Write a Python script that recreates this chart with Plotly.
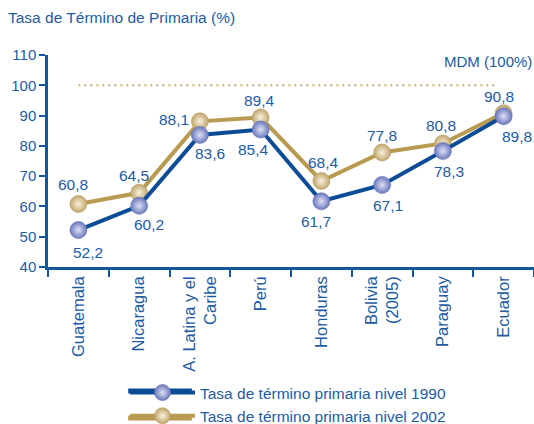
import plotly.graph_objects as go

# Primary completion rate (%) by country
categories = ["Guatemala", "Nicaragua", "A. Latina y el<br>Caribe", "Perú",
              "Honduras", "Bolivia<br>(2005)", "Paraguay", "Ecuador"]
rate_1990 = [52.2, 60.2, 83.6, 85.4, 61.7, 67.1, 78.3, 89.8]
rate_2002 = [60.8, 64.5, 88.1, 89.4, 68.4, 77.8, 80.8, 90.8]
mdm_target = 100
y_ticks = [40, 50, 60, 70, 80, 90, 100, 110]

# label offsets in pixels (dx, dy) relative to each marker
off_1990 = [(10, -22), (10, -19), (10, -19), (-7, -20), (-5, -20), (6, -21), (6, -20), (13, -20)]
off_2002 = [(-5, 20), (-5, 17), (-26, 2), (-1, 17), (2, 18), (0, 17), (-2, 18), (-5, 17)]

TEXT = "#1d5ba3"
AXIS = "#14569c"
BLUE = "#0c4c96"
GOLD = "#b89a50"
FONT = "Liberation Sans, Arial, sans-serif"


def fmt(v):
    return f"{v:.1f}".replace(".", ",")


fig = go.Figure()

fig.add_trace(go.Scatter(
    x=categories, y=rate_2002, mode="lines+markers",
    name="Tasa de término primaria nivel 2002", legendrank=2,
    line=dict(color=GOLD, width=4),
    marker=dict(size=17, color="#c2a66c",
                gradient=dict(type="radial", color="#f8f1de"),
                line=dict(width=0.6, color="#b79c62")),
))
fig.add_trace(go.Scatter(
    x=categories, y=rate_1990, mode="lines+markers",
    name="Tasa de término primaria nivel 1990", legendrank=1,
    line=dict(color=BLUE, width=4),
    marker=dict(size=17, color="#6c79bd",
                gradient=dict(type="radial", color="#dde0f5"),
                line=dict(width=0.6, color="#6470b4")),
))

annotations = []
for cat, v, (dx, dy) in zip(categories, rate_1990, off_1990):
    annotations.append(dict(x=cat, y=v, text=fmt(v), showarrow=False,
                            xshift=dx, yshift=dy,
                            font=dict(size=15.5, color=TEXT, family=FONT)))
for cat, v, (dx, dy) in zip(categories, rate_2002, off_2002):
    annotations.append(dict(x=cat, y=v, text=fmt(v), showarrow=False,
                            xshift=dx, yshift=dy,
                            font=dict(size=15.5, color=TEXT, family=FONT)))

annotations.append(dict(xref="paper", yref="paper", x=1, y=0.968,
                        xanchor="right", yanchor="middle", showarrow=False,
                        text="MDM (100%)",
                        font=dict(size=15, color=TEXT, family=FONT)))

# long legend keys, drawn under the legend symbols
legend_rows = [(-0.5849, BLUE), (-0.7123, GOLD)]
shapes = [dict(type="line", xref="x", yref="y", x0=0, x1=6.9,
               y0=mdm_target, y1=mdm_target,
               line=dict(color="#c9aa62", width=2, dash="2px,4px"),
               layer="below")]
for yy, col in legend_rows:
    shapes.append(dict(type="line", xref="paper", yref="paper",
                       x0=0.165, x1=0.296, y0=yy, y1=yy,
                       line=dict(color=col, width=5), layer="above"))

fig.update_layout(
    width=534, height=424,
    margin=dict(l=48, r=0, t=55, b=157, autoexpand=False),
    paper_bgcolor="white", plot_bgcolor="white",
    font=dict(family=FONT, color=TEXT, size=15),
    title=dict(text="Tasa de Término de Primaria (%)", xref="container",
               x=0.015, xanchor="left", y=1 - 18 / 424, yanchor="middle",
               font=dict(size=15.5, color=TEXT, family=FONT)),
    annotations=annotations,
    shapes=shapes,
    showlegend=True,
    legend=dict(xref="container", yref="container",
                x=125 / 534, y=1 - 376 / 424, xanchor="left", yanchor="top",
                itemwidth=65,
                font=dict(size=15.5, color=TEXT, family=FONT),
                bgcolor="rgba(0,0,0,0)", tracegroupgap=3),
)

fig.update_xaxes(
    type="category", range=[-0.5, 7.5], tickangle=-90, automargin=False,
    showline=True, linecolor=AXIS, linewidth=2.5, mirror=False,
    ticks="outside", ticklen=7, tickwidth=2, tickcolor=AXIS,
    tickson="boundaries", showgrid=False, zeroline=False,
    tickfont=dict(size=16.5, color=TEXT, family=FONT),
)
fig.update_yaxes(
    range=[40, 110], tickvals=y_ticks, automargin=False,
    showline=True, linecolor=AXIS, linewidth=2.5,
    ticks="outside", ticklen=6, tickwidth=2, tickcolor=AXIS,
    showgrid=False, zeroline=False,
    tickfont=dict(size=15, color=TEXT, family=FONT),
)

fig.write_html("out.html")
